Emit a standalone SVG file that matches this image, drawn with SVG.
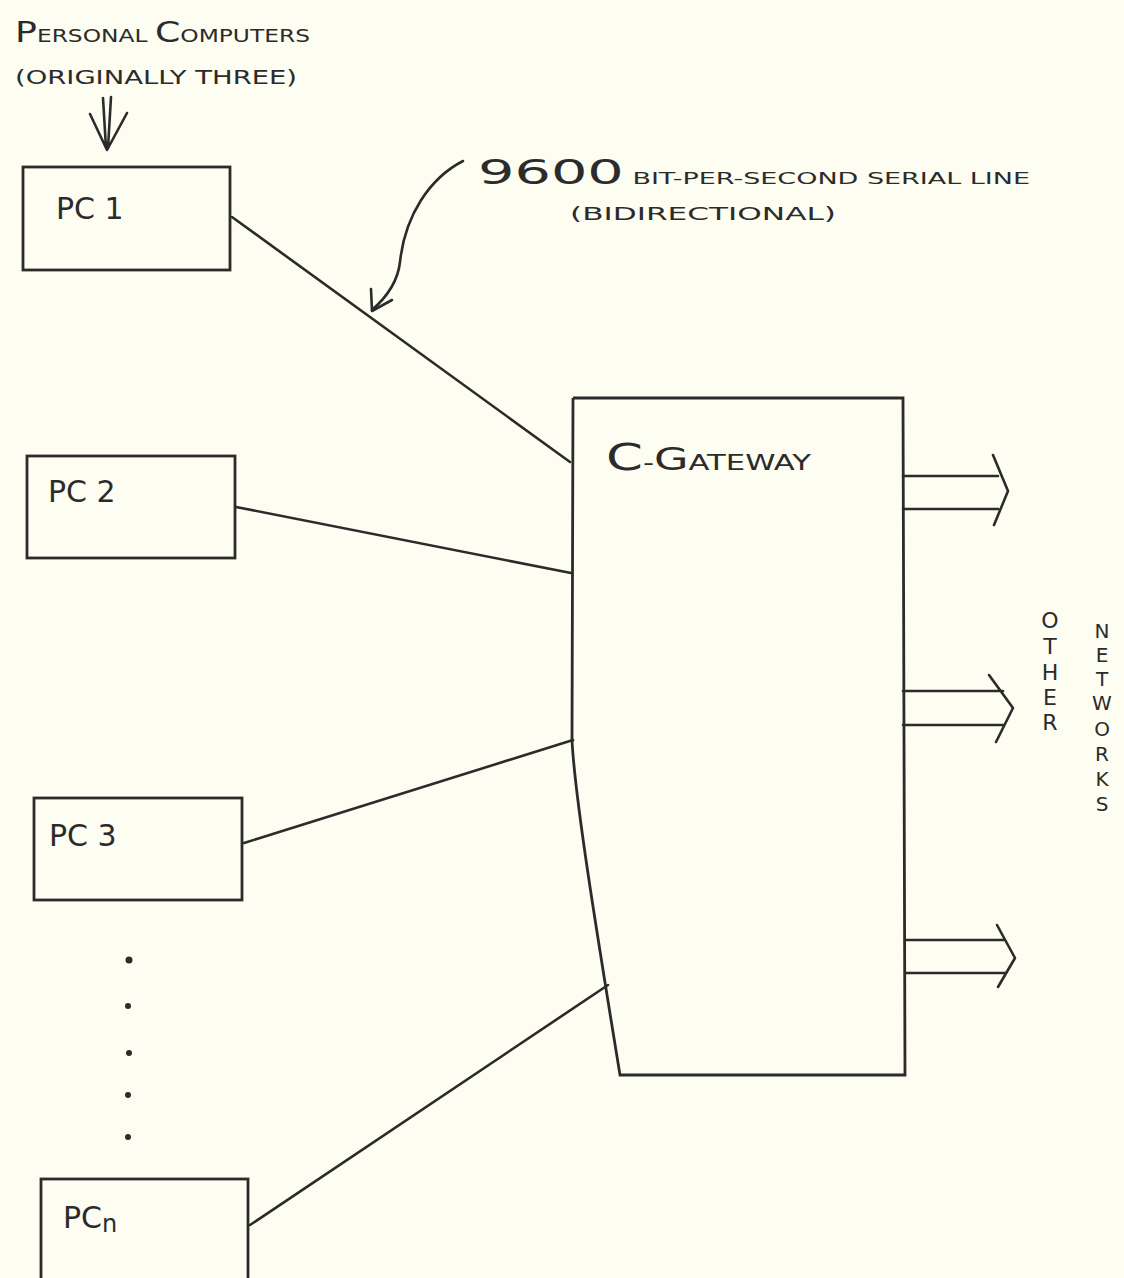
<svg xmlns="http://www.w3.org/2000/svg" width="1124" height="1278" viewBox="0 0 1124 1278">
<style>
.ln{stroke:#2b2b2b;stroke-width:2.6;fill:none;stroke-linecap:round;stroke-linejoin:round}
.box{stroke:#2b2b2b;stroke-width:2.8;fill:none}
.t{font-family:"DejaVu Sans","Liberation Sans",sans-serif;fill:#2b2b2b}
.dot{fill:#2b2b2b}
</style>
<rect width="1124" height="1278" fill="#fdfdf1"/>
<g id="label-pcs">
<text class="t" x="15" y="42" font-size="18" textLength="295" lengthAdjust="spacingAndGlyphs"><tspan font-size="28">P</tspan>ERSONAL <tspan font-size="28">C</tspan>OMPUTERS</text>
<text class="t" x="15" y="84" font-size="19" textLength="282" lengthAdjust="spacingAndGlyphs">(ORIGINALLY THREE)</text>
<path class="ln" d="M103 98 L106 148 M111 97 L108 148 M90 114 L107 150 L127 113"/>
</g>
<g id="label-serial">
<text class="t" x="478" y="184" font-size="16" textLength="552" lengthAdjust="spacingAndGlyphs"><tspan font-size="34">9600</tspan> BIT-PER-SECOND SERIAL LINE</text>
<text class="t" x="570" y="220" font-size="18" textLength="266" lengthAdjust="spacingAndGlyphs">(BIDIRECTIONAL)</text>
<path class="ln" d="M463 161 C430 178 405 215 400 262 C398 280 388 296 372 310"/>
<path class="ln" d="M371 289 L372 311 L392 300"/>
</g>
<g id="pc1">
<rect class="box" x="23" y="167" width="207" height="103"/>
<text class="t" x="56" y="219" font-size="30">PC 1</text>
</g>
<g id="pc2">
<rect class="box" x="27" y="456" width="208" height="102"/>
<text class="t" x="48" y="502" font-size="30">PC 2</text>
</g>
<g id="pc3">
<rect class="box" x="34" y="798" width="208" height="102"/>
<text class="t" x="49" y="846" font-size="30">PC 3</text>
</g>
<g id="dots">
<circle class="dot" cx="129" cy="960" r="3.5"/>
<circle class="dot" cx="128" cy="1006" r="3"/>
<circle class="dot" cx="129" cy="1053" r="3"/>
<circle class="dot" cx="128" cy="1095" r="3"/>
<circle class="dot" cx="128" cy="1137" r="3"/>
</g>
<g id="pcn">
<rect class="box" x="41" y="1179" width="207" height="110"/>
<text class="t" x="63" y="1228" font-size="30">PC<tspan font-size="24" dy="4">n</tspan></text>
</g>
<g id="gateway">
<path class="box" d="M573 398 L903 398 L905 1075 L620 1075 C598 940 575 800 572 740 L573 398"/>
<text class="t" x="606" y="470" font-size="22" textLength="205" lengthAdjust="spacingAndGlyphs"><tspan font-size="38">C</tspan>-<tspan font-size="32">G</tspan>ATEWAY</text>
</g>
<g id="networks">
<text class="t" font-size="22" text-anchor="middle" x="1050"><tspan x="1050" y="628">O</tspan><tspan x="1050" y="654">T</tspan><tspan x="1050" y="680">H</tspan><tspan x="1050" y="705">E</tspan><tspan x="1050" y="730">R</tspan></text>
<text class="t" font-size="20" text-anchor="middle" x="1102"><tspan x="1102" y="638">N</tspan><tspan x="1102" y="662">E</tspan><tspan x="1102" y="686">T</tspan><tspan x="1102" y="710">W</tspan><tspan x="1102" y="736">O</tspan><tspan x="1102" y="761">R</tspan><tspan x="1102" y="786">K</tspan><tspan x="1102" y="811">S</tspan></text>
</g>
<g id="connectors">
<path class="ln" d="M232 217 L570 462"/>
<path class="ln" d="M236 507 L571 573"/>
<path class="ln" d="M244 843 L573 740"/>
<path class="ln" d="M250 1225 L608 985"/>
<path class="ln" d="M903 476 L998 476 M903 509 L998 509 M993 455 L1008 491 L994 525"/>
<path class="ln" d="M903 691 L1003 691 M903 725 L1003 725 M989 675 L1013 708 L996 742"/>
<path class="ln" d="M905 940 L1005 940 M905 973 L1005 973 M997 925 L1015 958 L998 987"/>
</g>
</svg>
